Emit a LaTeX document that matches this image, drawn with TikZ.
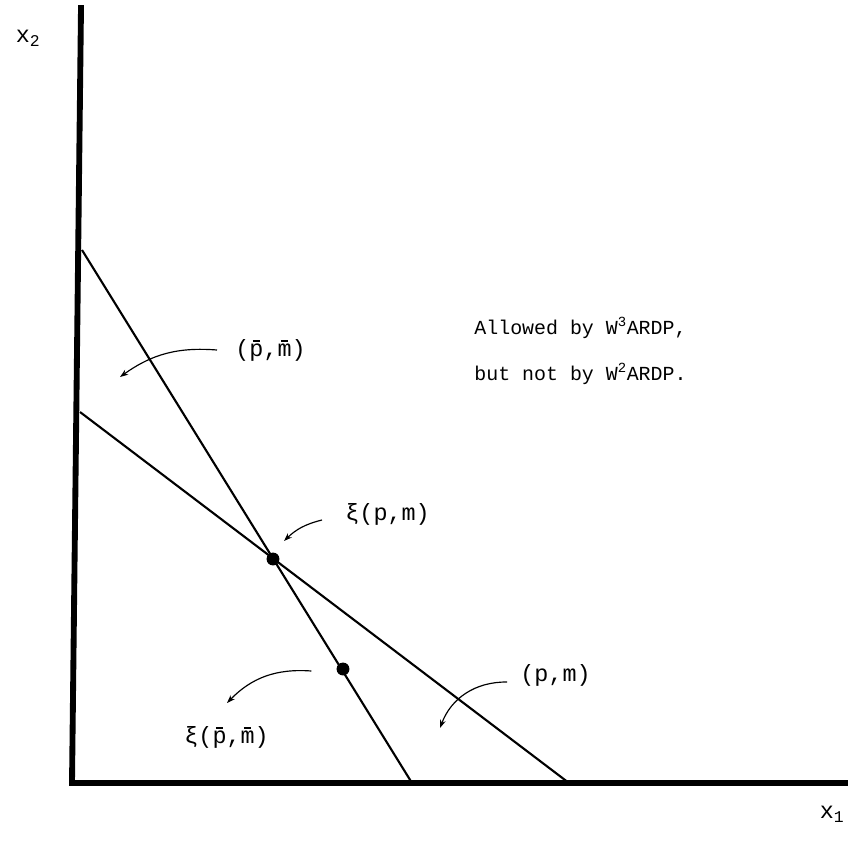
\documentclass[tikz,border=0pt]{standalone}
\usepackage{fontspec}
\setmainfont{Liberation Mono}
\usetikzlibrary{arrows.meta, positioning}

% a letter with a short bar on top
\newcommand{\barred}[1]{\leavevmode\hbox{\ooalign{#1\cr\hidewidth\raisebox{0.62em}{\rule{0.32em}{0.07em}}\hidewidth\cr}}}

\begin{document}
\begin{tikzpicture}[
    x=0.03cm, y=-0.03cm,
    axis/.style={line width=5pt, line cap=rect},
    budget/.style={line width=1.8pt},
    pointer/.style={-{Stealth[length=7pt, width=5pt]}, line width=1pt},
    choice/.style={circle, fill, inner sep=0pt, minimum size=11pt},
    lbl/.style={inner sep=1pt, font=\fontsize{20}{22}\selectfont},
    note/.style={anchor=west, inner sep=1pt, font=\fontsize{17}{19}\selectfont}
]
    \useasboundingbox (0,0) rectangle (849,843);

    % Axes
    \coordinate (origin) at (72,783);
    \coordinate (ytop) at (81,8);
    \coordinate (xend) at (845,783);
    \draw[axis] (ytop) -- (origin) -- (xend);
    \node[lbl] (xtwo) at (28,38) {x\textsubscript{2}};
    \node[lbl] (xone) at (832,814) {x\textsubscript{1}};

    % Budget lines
    \coordinate (steeptop) at (82,250);
    \coordinate (steepend) at (412,783);
    \coordinate (flattop) at (80,412);
    \coordinate (flatend) at (569,783);
    \draw[budget] (steeptop) -- (steepend);
    \draw[budget] (flattop) -- (flatend);

    % Chosen bundles
    \node[choice] (xipm) at (273,559) {};
    \node[choice] (xibar) at (343,669) {};

    % Labels
    \node[lbl, anchor=west] (pbar) at (234,350) {(\barred{p},\barred{m})};
    \node[lbl, anchor=west] (xilbl) at (344,514) {ξ(p,m)};
    \node[lbl, anchor=west] (pm) at (519,675) {(p,m)};
    \node[lbl, anchor=west] (xibarlbl) at (183,737) {ξ(\barred{p},\barred{m})};
    \node[note] (allow) at (473,328) {Allowed by W\textsuperscript{3}ARDP,};
    \node[note] (butnot) at (473,374) {but not by W\textsuperscript{2}ARDP.};

    % Pointers
    \coordinate (pbartip) at (120,377);
    \coordinate (xitip) at (284,541);
    \coordinate (xibartip) at (227,703);
    \coordinate (pmtip) at (440,728);
    \draw[pointer] (pbar.west) ++(-17,0) to[bend right=20] (pbartip);
    \draw[pointer] (xilbl.west) ++(-22,6) to[bend right=15] (xitip);
    \draw[pointer] (xibar.west) ++(-25,2) to[bend right=25] (xibartip);
    \draw[pointer] (pm.west) ++(-12,7) to[bend right=35] (pmtip);

\end{tikzpicture}
\end{document}
